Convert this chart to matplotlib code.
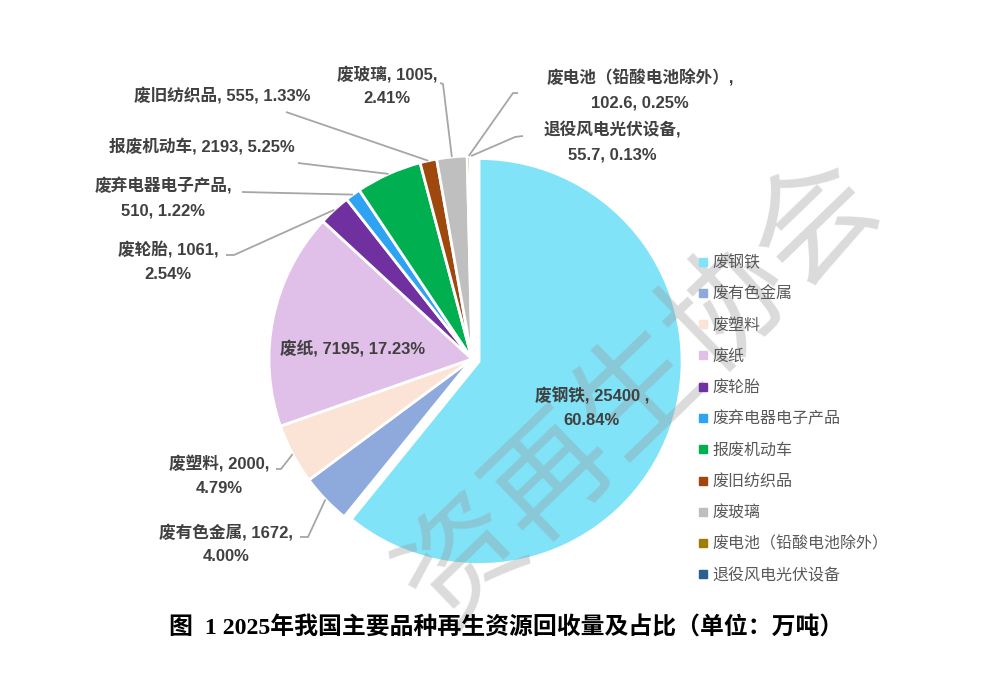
import matplotlib
matplotlib.use("Agg")
import matplotlib.pyplot as plt
from matplotlib.lines import Line2D
import numpy as np

plt.rcParams['font.family'] = ['Liberation Sans', 'Noto Sans CJK SC', 'DejaVu Sans']

# ---- data ----
categories = ["废钢铁", "废有色金属", "废塑料", "废纸", "废轮胎", "废弃电器电子产品",
              "报废机动车", "废旧纺织品", "废玻璃", "废电池（铅酸电池除外）", "退役风电光伏设备"]
values = [25400, 1672, 2000, 7195, 1061, 510, 2193, 555, 1005, 102.6, 55.7]
colors = ["#80E3F8", "#8EA9DB", "#FBE3D5", "#E0BFE8", "#7030A0", "#2EA3F2",
          "#00B050", "#9E480E", "#BFBFBF", "#A07C00", "#2A5F92"]
title = "图  1 2025年我国主要品种再生资源回收量及占比（单位：万吨）"
watermark = "资再生协会"

# ---- layout (pixels in a 988x675 canvas) ----
W, H = 988, 675
CX, CY, R = 472, 359, 203
# label centre, line-break style, leader start, leader elbow
label_pos = [(592, 408), (226, 544), (219, 476), (353, 348), (168, 262), (163, 198),
             (202, 146), (222, 95), (387, 86), (640, 90), (612, 142)]
break_style = ["pct", "pct", "pct", "none", "pct", "name", "none", "none", "pct", "name", "name"]
leader_start = [None, (300, 537), (276, 469), None, (226, 255), (242, 192),
                (298, 163), (286, 112), (440, 83), (518, 93), (523, 136)]
leader_elbow = [None, (308, 537), (281, 469), None, (234, 255), None,
                None, None, (443, 84), (513, 93), (515, 137)]


def px(x, y):
    return ((x - CX) / R, (CY - y) / R)


fig = plt.figure(figsize=(W / 100, H / 100), dpi=100)
ax = fig.add_axes([0, 0, 1, 1])
explode = [0.037] + [0] * (len(values) - 1)
wedges, _ = ax.pie(values, colors=colors, startangle=90, counterclock=False,
                   explode=explode, radius=1.0,
                   wedgeprops=dict(edgecolor="white", linewidth=2.0))
ax.set_xlim(px(0, 0)[0], px(W, 0)[0])
ax.set_ylim(px(0, H)[1], px(0, 0)[1])
ax.set_aspect("auto")
ax.axis("off")

# faint watermark
wx, wy = px(640, 392)
ax.text(wx, wy, watermark, rotation=44, ha="center", va="center", fontsize=88,
        color="#9a9a9a", alpha=0.36, zorder=3, family=["Noto Sans CJK SC"])

total = sum(values)
txt_color = "#404040"
for i, (name, v) in enumerate(zip(categories, values)):
    pct = v / total * 100
    vs = f"{v:g}"
    if i == 0:
        s = f"{name}, {vs} ,\n{pct:.2f}%"
    elif break_style[i] == "pct":
        s = f"{name}, {vs},\n{pct:.2f}%"
    elif break_style[i] == "name":
        s = f"{name},\n{vs}, {pct:.2f}%"
    else:
        s = f"{name}, {vs}, {pct:.2f}%"
    x, y = px(*label_pos[i])
    ax.text(x, y, s, ha="center", va="center", fontsize=12, fontweight="bold",
            color=txt_color, linespacing=1.7, zorder=5)
    if leader_start[i] is not None:
        w = wedges[i]
        mid = np.deg2rad((w.theta1 + w.theta2) / 2)
        end = (np.cos(mid) * 1.0, np.sin(mid) * 1.0)
        pts = [px(*leader_start[i])]
        if leader_elbow[i] is not None:
            pts.append(px(*leader_elbow[i]))
        pts.append(end)
        xs, ys = zip(*pts)
        ax.plot(xs, ys, color="#A6A6A6", lw=1.3, zorder=4, solid_capstyle="butt")

handles = [Line2D([0], [0], marker="s", linestyle="none", markersize=6,
                  markerfacecolor=c, markeredgecolor=c) for c in colors]
leg = fig.legend(handles, categories, loc="upper left",
                 bbox_to_anchor=(690 / W, 1 - 247 / H), frameon=False,
                 fontsize=11.5, labelcolor="#595959", handlelength=0.6,
                 handletextpad=0.3, labelspacing=1.01, borderpad=0)

fig.text(506 / W, 1 - 628 / H, title, ha="center", va="center", fontsize=17.2,
         fontweight="bold", family=["Liberation Serif", "Noto Sans CJK SC"], color="black")

fig.savefig("out.png", dpi=100)
